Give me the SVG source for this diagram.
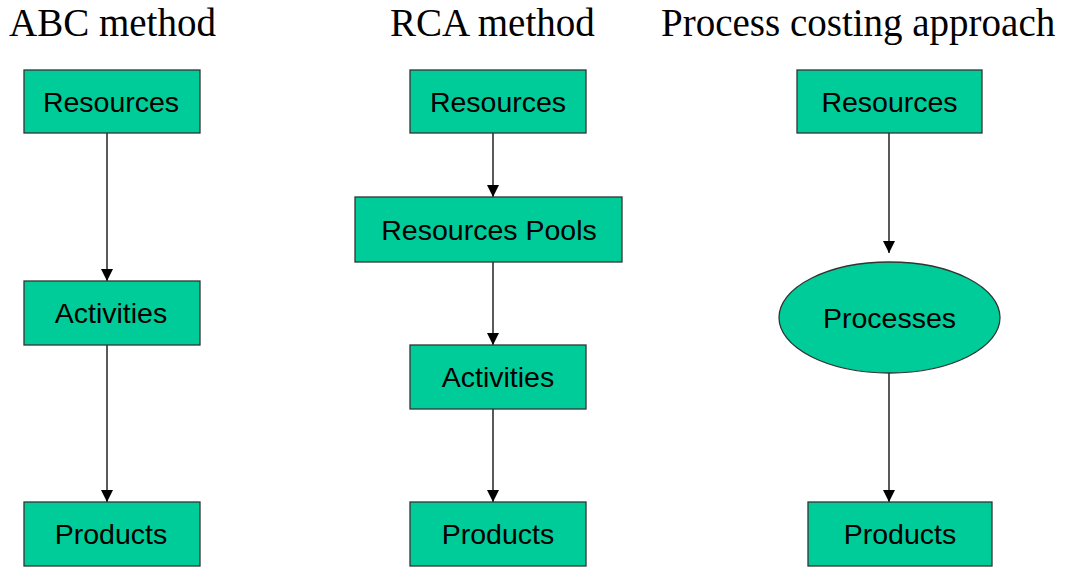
<svg xmlns="http://www.w3.org/2000/svg" width="1065" height="569" viewBox="0 0 1065 569">
<style>
.title{font-family:"Liberation Serif","Times New Roman",serif;font-size:39px;fill:#000}
.box{fill:#00CC99;stroke:#333;stroke-width:1.3}
.lbl{font-family:"Liberation Sans",Arial,sans-serif;font-size:28.5px;fill:#000;text-anchor:middle}
.conn{stroke:#222;stroke-width:1.5;fill:none;marker-end:url(#ah)}
</style>
<defs>
<marker id="ah" markerUnits="userSpaceOnUse" markerWidth="12" markerHeight="13" refX="12" refY="6" orient="auto" viewBox="0 0 12 12">
<path d="M0,0 L12,6 L0,12 Z" fill="#000"/>
</marker>
</defs>
<rect width="1065" height="569" fill="#fff"/>
<text class="title" x="9" y="36">ABC method</text>
<text class="title" x="390" y="36">RCA method</text>
<text class="title" x="661" y="36">Process costing approach</text>
<g id="connectors">
<line class="conn" x1="107" y1="133" x2="107" y2="281"/>
<line class="conn" x1="107" y1="345" x2="107" y2="502"/>
<line class="conn" x1="493" y1="133" x2="493" y2="197"/>
<line class="conn" x1="493" y1="262" x2="493" y2="345"/>
<line class="conn" x1="493" y1="409" x2="493" y2="502"/>
<line class="conn" x1="889" y1="133" x2="889" y2="253"/>
<line class="conn" x1="889" y1="373" x2="889" y2="502"/>
</g>
<g id="abc-resources"><rect class="box" x="24" y="70" width="176" height="63"/><text class="lbl" x="111" y="111.5">Resources</text></g>
<g id="abc-activities"><rect class="box" x="24" y="281" width="176" height="64"/><text class="lbl" x="111" y="322.5">Activities</text></g>
<g id="abc-products"><rect class="box" x="24" y="502" width="176" height="64"/><text class="lbl" x="111" y="543.5">Products</text></g>
<g id="rca-resources"><rect class="box" x="410" y="70" width="176" height="63"/><text class="lbl" x="498" y="111.5">Resources</text></g>
<g id="rca-pools"><rect class="box" x="355" y="197" width="267" height="65"/><text class="lbl" x="489" y="239.5">Resources Pools</text></g>
<g id="rca-activities"><rect class="box" x="410" y="345" width="176" height="64"/><text class="lbl" x="498" y="386.5">Activities</text></g>
<g id="rca-products"><rect class="box" x="410" y="502" width="176" height="64"/><text class="lbl" x="498" y="543.5">Products</text></g>
<g id="pc-resources"><rect class="box" x="797" y="70" width="185" height="63"/><text class="lbl" x="889.5" y="111.5">Resources</text></g>
<g id="pc-processes"><ellipse class="box" cx="889.5" cy="317.5" rx="110.5" ry="55.5"/><text class="lbl" x="889.5" y="327.5">Processes</text></g>
<g id="pc-products"><rect class="box" x="808" y="502" width="184" height="64"/><text class="lbl" x="900" y="543.5">Products</text></g>
</svg>
